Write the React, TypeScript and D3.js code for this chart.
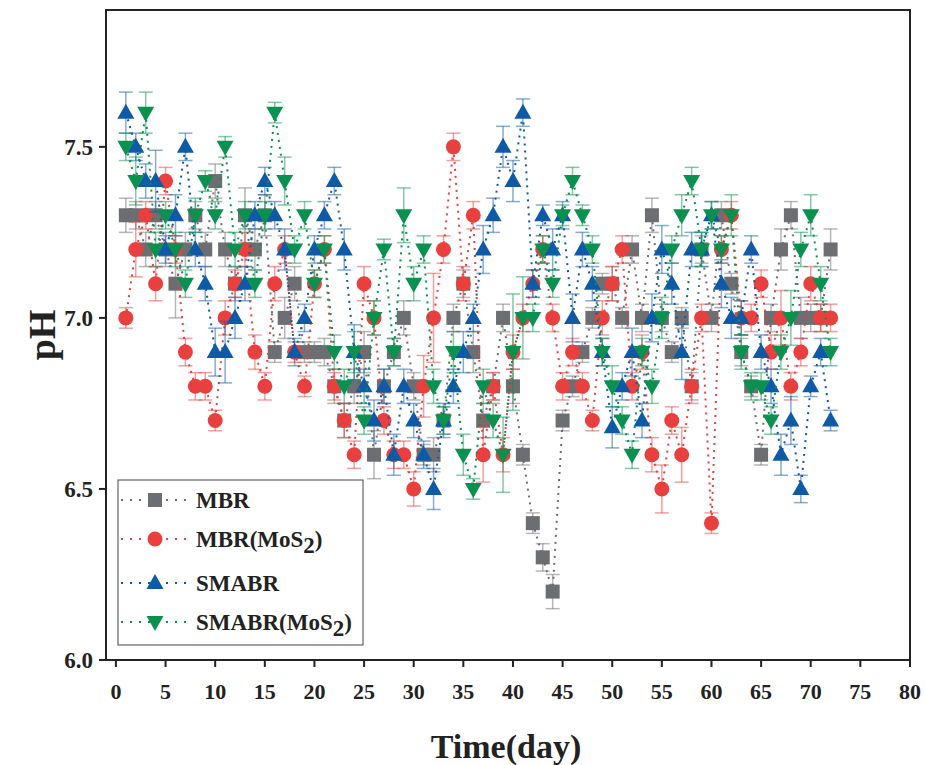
import React from 'react';
import * as d3 from 'd3';

const DAYS: number[] = Array.from({ length: 72 }, (_, i) => i + 1);

const MBR = [7.3,7.3,7.2,7.3,7.2,7.1,7.2,7.3,7.2,7.4, 7.2,7.1,7.3,7.2,7.3,6.9,7.0,7.1,6.9,6.9, 6.9,6.8,6.7,6.8,6.9,6.6,6.8,6.9,7.0,6.8, 6.6,6.6,6.7,7.0,7.1,6.9,6.7,6.8,7.0,6.8, 6.6,6.4,6.3,6.2,6.7,6.8,6.9,7.0,7.1,7.1, 7.0,7.2,7.0,7.3,7.0,6.9,7.0,6.8,7.2,7.0, 7.3,7.1,6.9,6.8,6.6,7.0,7.2,7.3,7.0,7.0, 7.0,7.2];
const MBR_MOS2 = [7.0,7.2,7.3,7.1,7.4,7.2,6.9,6.8,6.8,6.7, 7.0,7.1,7.2,6.9,6.8,7.1,7.2,6.9,6.8,7.1, 7.2,6.8,6.7,6.6,7.1,7.0,6.7,6.6,6.6,6.5, 6.8,7.0,7.2,7.5,7.1,7.3,6.6,6.8,6.6,6.9, 7.0,7.1,7.2,7.0,6.8,6.9,6.8,6.7,7.0,7.1, 7.2,6.8,6.9,6.6,6.5,6.7,6.6,6.8,7.0,6.4, 7.2,7.3,7.0,7.0,7.1,6.9,7.0,6.8,6.9,7.1, 7.0,7.0];
const SMABR = [7.6,7.5,7.4,7.4,7.2,7.3,7.5,7.2,7.1,6.9, 6.9,7.0,7.1,7.3,7.4,7.3,7.2,6.9,7.0,7.2, 7.3,7.4,7.2,6.9,6.8,6.7,6.8,6.6,6.8,6.7, 6.6,6.5,6.7,6.8,6.9,7.0,7.2,7.3,7.5,7.4, 7.6,7.1,7.3,7.2,7.3,7.0,7.2,7.1,6.9,6.68, 6.8,6.9,6.7,7.0,7.2,7.1,6.9,7.2,7.2,7.3, 7.1,7.0,7.0,7.2,6.9,6.8,6.6,6.7,6.5,6.8, 6.9,6.7];
const SMABR_MOS2 = [7.5,7.4,7.6,7.2,7.3,7.2,7.1,7.3,7.4,7.3, 7.5,7.2,7.3,7.1,7.3,7.6,7.4,7.2,7.3,7.1, 7.2,6.9,6.8,6.9,6.7,7.0,7.2,6.9,7.3,7.1, 7.2,6.8,6.7,6.9,6.6,6.5,6.8,6.7,6.6,6.9, 7.0,7.0,7.2,7.1,7.3,7.4,7.3,7.2,6.9,6.8, 6.7,6.6,6.9,6.8,7.0,7.2,7.3,7.4,7.2,7.3, 7.2,7.3,6.9,6.8,6.8,6.7,6.9,7.0,7.2,7.3, 7.1,6.9];

const MBR_ERR = [0.05,0.04,0.05,0.04,0.05,0.1,0.05,0.04,0.05,0.05, 0.05,0.05,0.08,0.06,0.06,0.03,0.06,0.05,0.03,0.03, 0.04,0.05,0.05,0.05,0.06,0.07,0.05,0.04,0.05,0.04, 0.03,0.05,0.04,0.04,0.04,0.06,0.05,0.04,0.04,0.05, 0.03,0.03,0.04,0.05,0.03,0.03,0.03,0.03,0.03,0.05, 0.03,0.04,0.04,0.05,0.04,0.03,0.03,0.04,0.04,0.04, 0.04,0.03,0.04,0.03,0.03,0.04,0.06,0.04,0.06,0.04, 0.04,0.06];
const MBR_MOS2_ERR = [0.03,0.08,0.04,0.05,0.04,0.04,0.04,0.04,0.04,0.03, 0.05,0.04,0.05,0.05,0.04,0.05,0.04,0.03,0.03,0.04, 0.04,0.04,0.05,0.04,0.05,0.05,0.04,0.04,0.04,0.05, 0.09,0.13,0.04,0.04,0.05,0.04,0.08,0.04,0.05,0.05, 0.04,0.04,0.04,0.04,0.04,0.04,0.04,0.03,0.05,0.05, 0.04,0.04,0.05,0.05,0.07,0.04,0.08,0.05,0.04,0.03, 0.04,0.04,0.05,0.04,0.04,0.05,0.08,0.04,0.04,0.05, 0.04,0.04];
const SMABR_ERR = [0.06,0.04,0.05,0.09,0.04,0.06,0.04,0.05,0.05,0.07, 0.09,0.06,0.05,0.04,0.04,0.04,0.06,0.04,0.04,0.04, 0.04,0.04,0.06,0.08,0.05,0.06,0.05,0.06,0.05,0.05, 0.04,0.06,0.05,0.05,0.06,0.04,0.07,0.05,0.06,0.06, 0.04,0.04,0.03,0.06,0.04,0.07,0.05,0.05,0.04,0.06, 0.04,0.07,0.05,0.07,0.07,0.06,0.08,0.05,0.05,0.04, 0.07,0.06,0.05,0.04,0.05,0.05,0.06,0.07,0.04,0.03, 0.04,0.03];
const SMABR_MOS2_ERR = [0.04,0.07,0.06,0.05,0.04,0.05,0.04,0.05,0.03,0.04, 0.03,0.05,0.04,0.04,0.04,0.03,0.07,0.04,0.04,0.04, 0.04,0.05,0.05,0.06,0.04,0.05,0.03,0.04,0.08,0.05, 0.04,0.05,0.04,0.06,0.06,0.03,0.05,0.05,0.11,0.17, 0.12,0.04,0.04,0.04,0.03,0.04,0.03,0.04,0.04,0.06, 0.04,0.04,0.04,0.05,0.06,0.04,0.06,0.04,0.05,0.04, 0.04,0.06,0.05,0.04,0.04,0.04,0.05,0.08,0.05,0.06, 0.05,0.04];

const X_TICKS = [0, 5, 10, 15, 20, 25, 30, 35, 40, 45, 50, 55, 60, 65, 70, 75, 80];
const Y_TICKS = [6.0, 6.5, 7.0, 7.5];

type Shape = 'square' | 'circle' | 'up' | 'down';
interface Series { name: string; sub: boolean; values: number[]; err: number[]; color: string; shape: Shape; }

const SERIES: Series[] = [
  { name: 'MBR', sub: false, values: MBR, err: MBR_ERR, color: '#6d6e71', shape: 'square' },
  { name: 'MBR(MoS', sub: true, values: MBR_MOS2, err: MBR_MOS2_ERR, color: '#e8403f', shape: 'circle' },
  { name: 'SMABR', sub: false, values: SMABR, err: SMABR_ERR, color: '#0e5aa7', shape: 'up' },
  { name: 'SMABR(MoS', sub: true, values: SMABR_MOS2, err: SMABR_MOS2_ERR, color: '#0a9150', shape: 'down' },
];

const W = 925, H = 765;
const L = 106, R = 910, T = 10, B = 660;
const FONT = '"Liberation Serif", "Times New Roman", serif';

function Marker({ shape, cx, cy, color }: { shape: Shape; cx: number; cy: number; color: string }) {
  if (shape === 'square') return <rect x={cx - 7} y={cy - 7} width={14} height={14} fill={color} />;
  if (shape === 'circle') return <circle cx={cx} cy={cy} r={7.5} fill={color} />;
  if (shape === 'up') return <path d={`M${cx},${cy - 9}L${cx + 8.5},${cy + 6}L${cx - 8.5},${cy + 6}Z`} fill={color} />;
  return <path d={`M${cx},${cy + 9}L${cx + 8.5},${cy - 6}L${cx - 8.5},${cy - 6}Z`} fill={color} />;
}

export default function App() {
  const x = d3.scaleLinear().domain([-1, 80]).range([L, R]);
  const y = d3.scaleLinear().domain([6.0, 7.9]).range([B, T]);
  const line = d3.line<number>().x((_, i) => x(DAYS[i])).y((v) => y(v));

  const legendY = [500, 539, 583, 622];

  return (
    <svg width={W} height={H} style={{ position: 'absolute', left: 0, top: 0, background: '#fff' }}>
      <rect x={0} y={0} width={W} height={H} fill="#fff" />
      {SERIES.map((s) => (
        <g key={s.name}>
          <path d={line(s.values) || ''} fill="none" stroke={s.color} strokeWidth={2} strokeDasharray="2 5" />
          {s.values.map((v, i) => {
            const cx = x(DAYS[i]);
            const y1 = y(v + s.err[i]);
            const y2 = y(v - s.err[i]);
            return (
              <g key={i} stroke={s.color} strokeOpacity={0.5} strokeWidth={1.5}>
                <line x1={cx} x2={cx} y1={y1} y2={y2} />
                <line x1={cx - 7} x2={cx + 7} y1={y1} y2={y1} />
                <line x1={cx - 7} x2={cx + 7} y1={y2} y2={y2} />
              </g>
            );
          })}
          {s.values.map((v, i) => (
            <Marker key={i} shape={s.shape} cx={x(DAYS[i])} cy={y(v)} color={s.color} />
          ))}
        </g>
      ))}

      {/* frame */}
      <rect x={L} y={T} width={R - L} height={B - T} fill="none" stroke="#222" strokeWidth={2} />

      {/* x axis */}
      {X_TICKS.map((t) => (
        <g key={t}>
          <line x1={x(t)} x2={x(t)} y1={B} y2={B + 7} stroke="#222" strokeWidth={2} />
          <text x={x(t)} y={699} textAnchor="middle" fontFamily={FONT} fontWeight="bold" fontSize={22} fill="#222">{t}</text>
        </g>
      ))}
      {/* y axis */}
      {Y_TICKS.map((t) => (
        <g key={t}>
          <line x1={L - 7} x2={L} y1={y(t)} y2={y(t)} stroke="#222" strokeWidth={2} />
          <text x={93} y={y(t) + 8} textAnchor="end" fontFamily={FONT} fontWeight="bold" fontSize={23} fill="#222">{t.toFixed(1)}</text>
        </g>
      ))}

      <text x={506} y={758} textAnchor="middle" fontFamily={FONT} fontWeight="bold" fontSize={34} fill="#222">Time(day)</text>
      <text transform="translate(55,335) rotate(-90)" textAnchor="middle" fontFamily={FONT} fontWeight="bold" fontSize={38} fill="#222">pH</text>

      {/* legend */}
      <rect x={118} y={480} width={245} height={165} fill="#fff" stroke="#444" strokeWidth={1} />
      {SERIES.map((s, i) => (
        <g key={s.name}>
          <line x1={121} x2={188} y1={legendY[i]} y2={legendY[i]} stroke={s.color} strokeWidth={2} strokeDasharray="2 7" />
          <Marker shape={s.shape} cx={155} cy={legendY[i]} color={s.color} />
          <text x={196} y={legendY[i] + 8} fontFamily={FONT} fontWeight="bold" fontSize={23} fill="#222">
            {s.name}
            {s.sub ? <tspan dy={6}>2</tspan> : null}
            {s.sub ? <tspan dy={-6}>)</tspan> : null}
          </text>
        </g>
      ))}
    </svg>
  );
}
